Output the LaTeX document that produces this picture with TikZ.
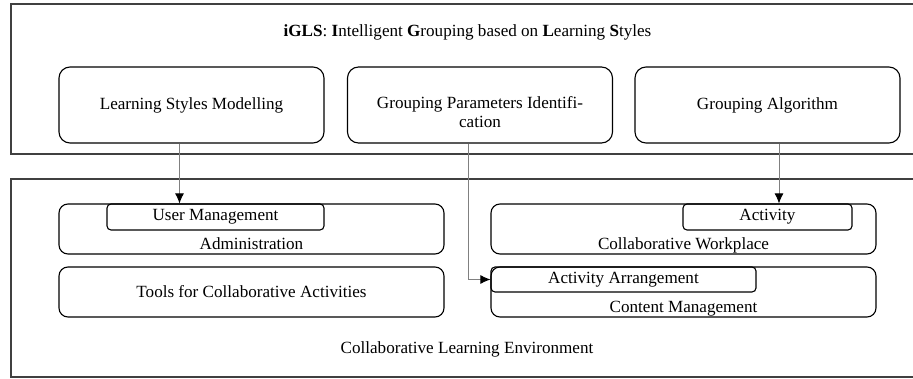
\documentclass[tikz,border=0pt]{standalone}
\usepackage{fontspec}
\setmainfont{Liberation Serif}
\usetikzlibrary{arrows.meta,positioning}

\tikzset{
  outerbox/.style={draw=black!75, line width=1.6pt, minimum width=905pt, inner sep=0pt},
  modbox/.style={draw, line width=1.1pt, rounded corners=11pt, minimum width=265pt, minimum height=76pt, inner sep=0pt},
  envbox/.style={draw, line width=1.1pt, rounded corners=9pt, minimum width=385pt, minimum height=50pt, inner sep=0pt},
  subbox/.style={draw, line width=1.1pt, rounded corners=4pt, minimum height=26pt, inner sep=0pt},
  txt/.style={inner sep=0pt, anchor=base},
  link/.style={draw=black!50, line width=0.9pt, -{Latex[color=black,length=10pt,width=9pt]}},
  every node/.style={font=\fontsize{17.1}{19}\selectfont}
}

\begin{document}
\begin{tikzpicture}[x=1pt,y=1pt]
  \useasboundingbox (0,0) rectangle (913,378);

  % les deux cadres
  \node[outerbox, minimum height=150pt] (igls) at (463.5,299) {};
  \node[outerbox, minimum height=198pt] (cle) at (463.5,100) {};
  \node[txt] (iglstitle) at (467.5,341) {\textbf{iGLS}: \textbf{I}ntelligent \textbf{G}rouping based on \textbf{L}earning \textbf{S}tyles};
  \node[txt] (cletitle) at (467,24.7) {Collaborative Learning Environment};

  % modules iGLS
  \node[modbox] (lsm) at (191.5,273) {Learning Styles Modelling};
  \node[modbox] (gpi) at (480,273) {};
  \node[txt, align=center] (gpitxt) at (480,250) {Grouping Parameters Identifi-\\cation};
  \node[modbox] (ga) at (767.5,273) {Grouping Algorithm};

  % modules de l'environnement
  \node[envbox] (adm) at (251.5,149) {};
  \node[subbox, minimum width=217pt, anchor=north west] (um) at ([xshift=48pt]adm.north west) {User Management};
  \node[txt] (admtxt) at ([yshift=5.3pt]adm.south) {Administration};
  \node[envbox] (tools) at (251.5,86) {Tools for Collaborative Activities};
  \node[envbox] (cw) at (683.5,149) {};
  \node[subbox, minimum width=169pt, anchor=north east] (act) at ([xshift=-24pt]cw.north east) {Activity};
  \node[txt] (cwtxt) at ([yshift=5pt]cw.south) {Collaborative Workplace};
  \node[envbox] (cm) at (683.5,86) {};
  \node[subbox, minimum width=265pt, minimum height=25pt, anchor=north west] (aa) at (cm.north west) {Activity Arrangement};
  \node[txt] (cmtxt) at ([yshift=5.2pt]cm.south) {Content Management};

  % liens
  \draw[link] ([xshift=-12pt]lsm.south) -- ([xshift=-12pt]lsm.south |- um.north);
  \draw[link] ([xshift=11.5pt]ga.south) -- ([xshift=11.5pt]ga.south |- act.north);
  \draw[link] ([xshift=-12pt]gpi.south) |- (aa.west);
\end{tikzpicture}
\end{document}
